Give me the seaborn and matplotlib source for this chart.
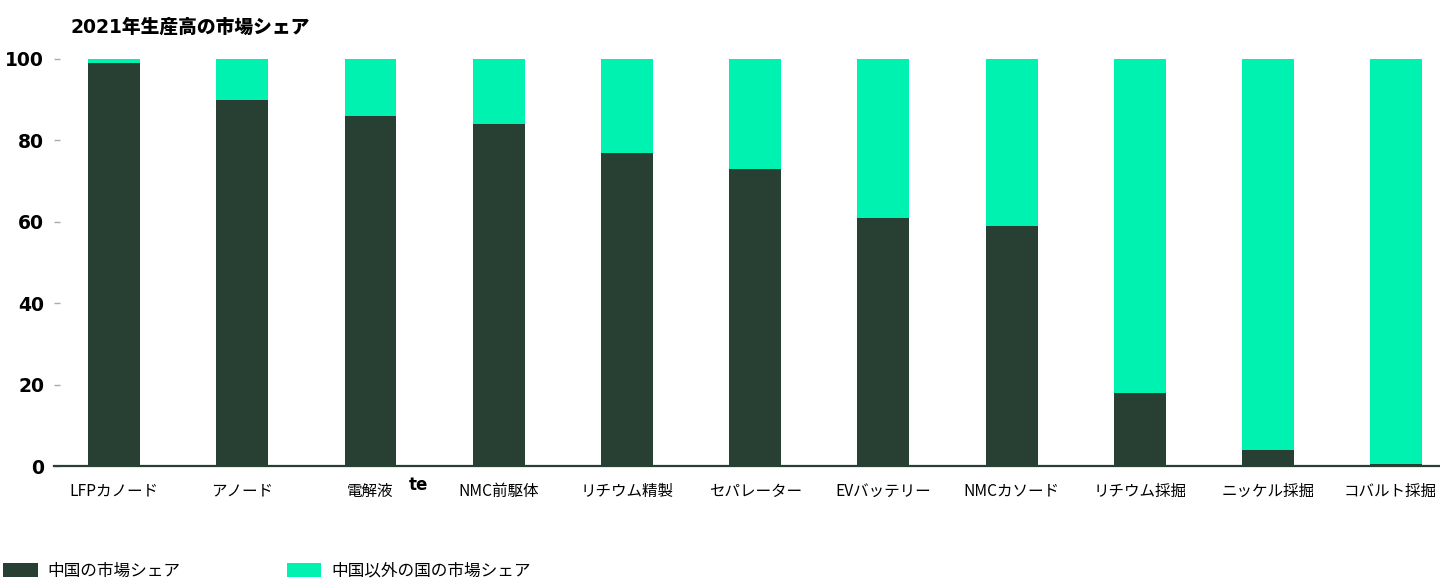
import matplotlib
matplotlib.use("Agg")
import matplotlib.pyplot as plt
import matplotlib.transforms as mtransforms
from matplotlib.patches import Patch
import seaborn as sns
import pandas as pd

categories = ["LFPカノード", "アノード", "電解液", "NMC前駆体", "リチウム精製", "セパレーター",
              "EVバッテリー", "NMCカソード", "リチウム採掘", "ニッケル採掘", "コバルト採掘"]
china_share = [99, 90, 86, 84, 77, 73, 61, 59, 18, 4, 0.6]
total_share = [100] * len(categories)
y_ticks = [0, 20, 40, 60, 80, 100]
title = "2021年生産高の市場シェア"
legend_labels = ["中国の市場シェア", "中国以外の国の市場シェア"]

DARK = "#283F33"
MINT = "#00F2B1"

sns.set_theme(style="white")
plt.rcParams["font.family"] = ["Noto Sans CJK JP", "DejaVu Sans"]
plt.rcParams["text.color"] = "black"
plt.rcParams["xtick.labelcolor"] = "black"
plt.rcParams["ytick.labelcolor"] = "black"

df = pd.DataFrame({"cat": categories, "china": china_share, "total": total_share})

fig = plt.figure(figsize=(14.4, 5.8), dpi=100)
ax = fig.add_axes([54 / 1440, (580 - 466) / 580, 1 - 54 / 1440, (466 - 59) / 580])

sns.barplot(data=df, x="cat", y="total", color=MINT, width=0.405, saturation=1,
            linewidth=0, ax=ax)
sns.barplot(data=df, x="cat", y="china", color=DARK, width=0.405, saturation=1,
            linewidth=0, ax=ax)

ax.set_ylim(0, 100)
ax.set_xlim(-0.468, 10.34)
ax.set_xlabel("")
ax.set_ylabel("")
ax.set_yticks(y_ticks)
ax.set_yticklabels([str(t) for t in y_ticks], fontsize=13.5, fontweight="bold",
                   family=["DejaVu Sans"], color="black")
ax.tick_params(axis="y", direction="in", length=4.5, width=1, color="#aaaaaa", pad=7, left=True)
ax.tick_params(axis="x", length=0, pad=12, labelsize=11.2, labelcolor="black")

# nudge the last label inward so it stays inside the figure, as in the reference
last = ax.get_xticklabels()[-1]
last.set_transform(last.get_transform() +
                   mtransforms.ScaledTranslation(-6 / 100, 0, fig.dpi_scale_trans))

for s in ["top", "right", "left"]:
    ax.spines[s].set_visible(False)
ax.spines["bottom"].set_color(DARK)
ax.spines["bottom"].set_linewidth(1.6)

fig.text(70 / 1440, 1 - 27 / 580, title, fontsize=13.5, fontweight="heavy", color="black",
         family=["DejaVu Sans", "Noto Sans CJK JP"], ha="left", va="center")

# stray glyph visible in the reference
fig.text(418 / 1440, 1 - 485 / 580, "te", fontsize=12, fontweight="bold", color="black",
         family=["DejaVu Sans"], ha="center", va="center")

handles = [Patch(facecolor=DARK, edgecolor="none"), Patch(facecolor=MINT, edgecolor="none")]
fig.legend(handles, legend_labels, loc="lower left", bbox_to_anchor=(0.0, -0.005),
           ncol=2, frameon=False, fontsize=12, handlelength=2.05, handleheight=0.95,
           handletextpad=0.6, columnspacing=6.4, borderaxespad=0.0, borderpad=0.2,
           labelcolor="black")

fig.savefig("out.png", dpi=100)
